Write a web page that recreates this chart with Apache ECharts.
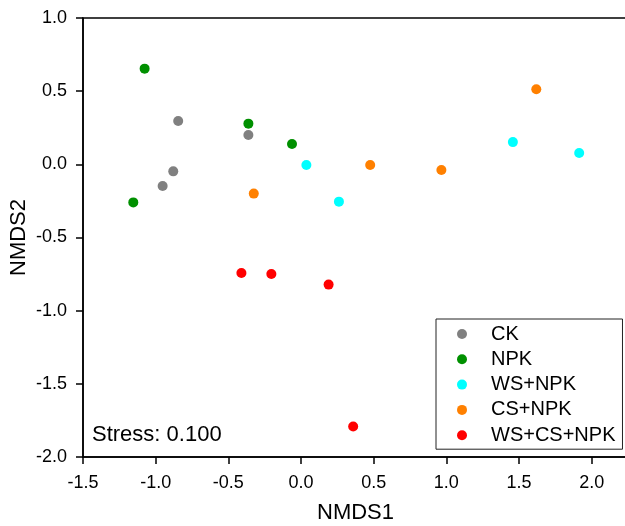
<!DOCTYPE html>
<html>
<head>
<meta charset="utf-8">
<script src="https://cdn.jsdelivr.net/npm/echarts@6/dist/echarts.min.js"></script>
<style>
  html, body { margin: 0; padding: 0; background: #fff; }
  #chart { width: 625px; height: 526px; }
</style>
</head>
<body>
<div id="chart"></div>
<script>
// NMDS ordination of the five fertilisation treatments
const groups = ['CK', 'NPK', 'WS+NPK', 'CS+NPK', 'WS+CS+NPK'];
const groupColors = ['#808080', '#009000', '#00ffff', '#ff8000', '#ff0000'];

// [NMDS1, NMDS2] per sample
const ckPoints = [[-0.845, 0.296], [-0.362, 0.200], [-0.879, -0.048], [-0.952, -0.148]];
const npkPoints = [[-1.076, 0.654], [-0.362, 0.278], [-0.062, 0.139], [-1.154, -0.260]];
const wsNpkPoints = [[0.037, -0.005], [0.261, -0.255], [1.458, 0.152], [1.914, 0.077]];
const csNpkPoints = [[-0.325, -0.200], [0.476, -0.005], [0.966, -0.039], [1.619, 0.513]];
const wsCsNpkPoints = [[-0.410, -0.743], [-0.204, -0.750], [0.190, -0.822], [0.359, -1.791]];
const groupPoints = [ckPoints, npkPoints, wsNpkPoints, csNpkPoints, wsCsNpkPoints];

const xTicks = [-1.5, -1.0, -0.5, 0.0, 0.5, 1.0, 1.5, 2.0];
const yTicks = [-2.0, -1.5, -1.0, -0.5, 0.0, 0.5, 1.0];
const stressText = 'Stress: 0.100';

const FONT = '"Liberation Sans", Arial, sans-serif';

const chart = echarts.init(document.getElementById('chart'), null, { renderer: 'canvas' });

chart.setOption({
  animation: false,
  backgroundColor: '#fff',
  grid: {
    left: 83, right: -3, top: 18, bottom: 69,
    containLabel: false, outerBoundsMode: 'none',
    show: true, borderColor: '#000', borderWidth: 1.5,
    backgroundColor: 'transparent'
  },
  xAxis: {
    type: 'value', min: -1.5, max: 2.25,
    name: 'NMDS1', nameLocation: 'middle', nameGap: 45,
    nameMoveOverlap: false,
    nameTextStyle: { fontFamily: FONT, fontSize: 22, color: '#000' },
    axisLine: { show: true, onZero: false, lineStyle: { color: '#000', width: 1.5 } },
    axisTick: { show: true, inside: false, length: 7, customValues: xTicks, lineStyle: { color: '#000', width: 1.5 } },
    axisLabel: {
      customValues: xTicks, margin: 17,
      fontFamily: FONT, fontSize: 18, color: '#000',
      formatter: v => Number(v).toFixed(1)
    },
    splitLine: { show: false }
  },
  yAxis: {
    type: 'value', min: -2, max: 1, interval: 0.5,
    name: 'NMDS2', nameLocation: 'middle', nameGap: 53,
    nameMoveOverlap: false,
    nameTextStyle: { fontFamily: FONT, fontSize: 22, color: '#000' },
    axisLine: { show: true, onZero: false, lineStyle: { color: '#000', width: 1.5 } },
    axisTick: { show: true, inside: false, length: 7, customValues: yTicks, lineStyle: { color: '#000', width: 1.5 } },
    axisLabel: {
      customValues: yTicks, margin: 16,
      padding: [4, 0, 0, 0],
      fontFamily: FONT, fontSize: 18, color: '#000',
      formatter: v => Number(v).toFixed(1)
    },
    splitLine: { show: false }
  },
  legend: {
    orient: 'vertical',
    left: 436, top: 319,
    padding: [5, 7, 4, 21],
    itemGap: 5.3,
    itemWidth: 10, itemHeight: 10,
    icon: 'circle',
    borderColor: '#222', borderWidth: 1,
    backgroundColor: '#fff',
    textStyle: { fontFamily: FONT, fontSize: 20, color: '#000', padding: [0, 0, 0, 19] },
    data: groups
  },
  graphic: [{
    type: 'text',
    left: 92, top: 424,
    style: { text: stressText, font: '22px ' + FONT, fill: '#000' }
  }],
  series: groups.map((g, i) => ({
    name: g,
    type: 'scatter',
    symbol: 'circle',
    symbolSize: 10,
    itemStyle: { color: groupColors[i], opacity: 1 },
    data: groupPoints[i]
  }))
});
</script>
</body>
</html>
